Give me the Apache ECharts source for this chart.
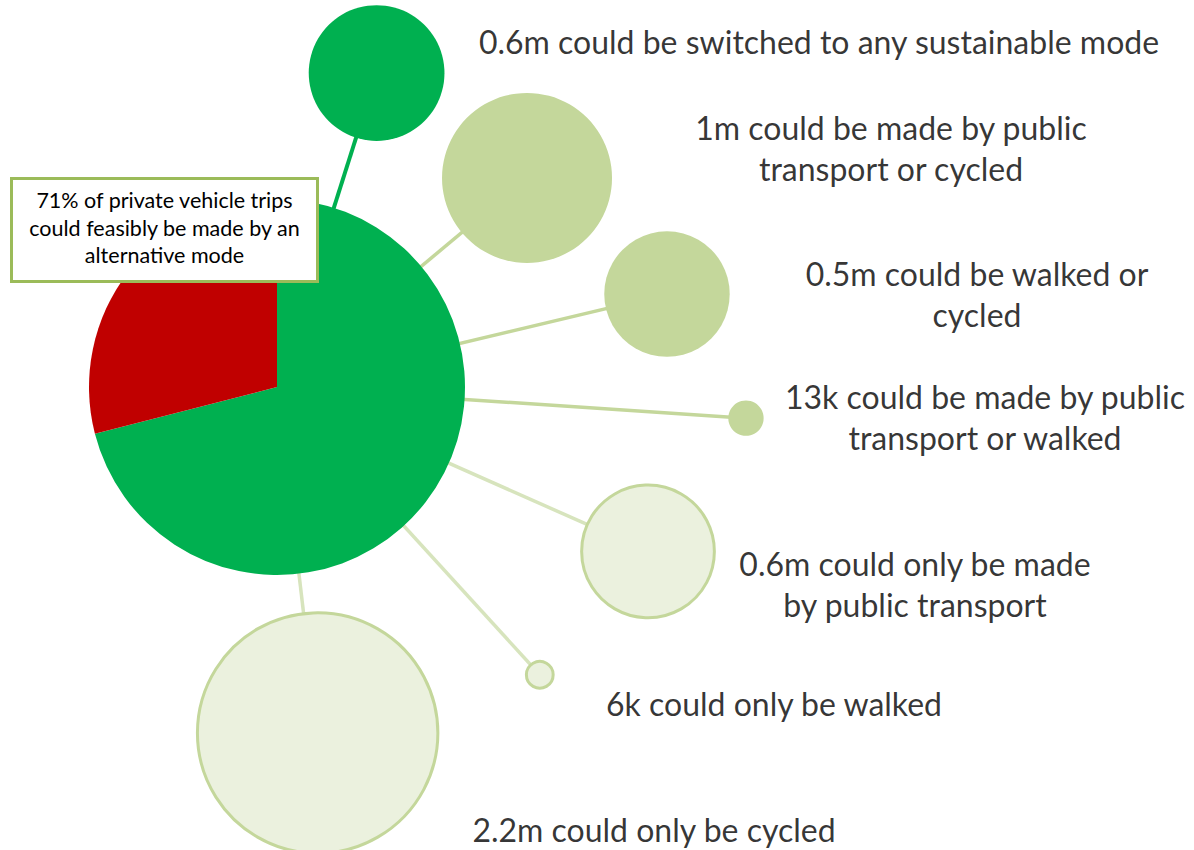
<!DOCTYPE html>
<html>
<head>
<meta charset="utf-8">
<script src="https://cdn.jsdelivr.net/npm/echarts@6/dist/echarts.min.js"></script>
<style>
  html, body { margin: 0; padding: 0; background: #ffffff; }
  #chart { width: 1194px; height: 850px; }
</style>
</head>
<body>
<div id="chart"></div>
<script>
// ---------- data ----------
const categories = [
  '0.6m could be switched to any sustainable mode',
  '1m could be made by public\ntransport or cycled',
  '0.5m could be walked or\ncycled',
  '13k could be made by public\ntransport or walked',
  '0.6m could only be made\nby public transport',
  '6k could only be walked',
  '2.2m could only be cycled'
];
const trips = [600000, 1000000, 500000, 13000, 600000, 6000, 2200000];
const pieNames = ['Could feasibly use an alternative mode', 'No feasible alternative'];
const pieShares = [71, 29];
const annotation = '71% of private vehicle trips\ncould feasibly be made by an\nalternative mode';

// ---------- layout (angle in degrees, distance in px from pie centre) ----------
const bubbleAngle = [72.4, 39.9, 13.4, -3.8, -23.9, -47.6, -83.3];
const bubbleDistance = [329.4, 325.9, 400.9, 470.0, 405.8, 389.7, 348.4];
const labelX = [819, 891, 977, 985, 915, 774, 654];
const labelY = [41, 148, 294, 417, 584, 703, 829];

// ---------- styles ----------
const DARK = '#00b050', MID = '#c4d79b', LIGHT = '#ebf1de', LINE_LIGHT = '#d7e4bd';
const bubbleFill = [DARK, MID, MID, MID, LIGHT, LIGHT, LIGHT];
const bubbleBorder = [null, null, null, null, MID, MID, MID];
const connectorColor = [DARK, MID, MID, MID, LINE_LIGHT, LINE_LIGHT, LINE_LIGHT];
const FONT = 'Lato, "Noto Sans", sans-serif';

function radiusFor(v) { return 9 + 76 * Math.sqrt(v / 1e6); }

const chart = echarts.init(document.getElementById('chart'), null, { renderer: 'svg' });

const connectorSeries = trips.map((v, i) => {
  const a = (bubbleAngle[i] + 360) % 360;
  return {
    type: 'line',
    coordinateSystem: 'polar',
    polarIndex: 0,
    z: 1,
    silent: true,
    symbol: 'none',
    animation: false,
    lineStyle: { color: connectorColor[i], width: i === 0 ? 4 : 3.5 },
    data: [[0, a], [bubbleDistance[i], a]]
  };
});

const option = {
  animation: false,
  backgroundColor: '#ffffff',
  grid: { left: 0, right: 0, top: 0, bottom: 0 },
  xAxis: { type: 'value', min: 0, max: 1194, show: false },
  yAxis: { type: 'value', min: 0, max: 850, inverse: true, show: false },
  polar: { center: [277, 387], radius: 500 },
  radiusAxis: { type: 'value', min: 0, max: 500, show: false },
  angleAxis: { type: 'value', min: 0, max: 360, startAngle: 0, clockwise: false, show: false },
  series: [
    ...connectorSeries,
    {
      type: 'pie',
      z: 2,
      center: [277, 387],
      radius: 188,
      startAngle: 90,
      clockwise: true,
      silent: true,
      label: { show: false },
      labelLine: { show: false },
      itemStyle: { borderWidth: 0 },
      data: pieShares.map((v, i) => ({
        name: pieNames[i], value: v,
        itemStyle: { color: i === 0 ? DARK : '#c00000' }
      }))
    },
    {
      type: 'scatter',
      coordinateSystem: 'polar',
      z: 3,
      silent: true,
      symbol: 'circle',
      data: trips.map((v, i) => ({
        name: categories[i],
        value: [bubbleDistance[i], (bubbleAngle[i] + 360) % 360, v],
        symbolSize: 2 * radiusFor(v) - (bubbleBorder[i] ? 3 : 0),
        itemStyle: {
          color: bubbleFill[i],
          opacity: 1,
          borderColor: bubbleBorder[i] || bubbleFill[i],
          borderWidth: bubbleBorder[i] ? 3 : 0
        }
      }))
    },
    {
      type: 'scatter',
      coordinateSystem: 'cartesian2d',
      z: 4,
      silent: true,
      symbolSize: 1,
      itemStyle: { color: 'rgba(0,0,0,0)' },
      label: {
        show: true,
        position: 'inside',
        formatter: p => p.name,
        color: '#000000',
        fontFamily: FONT,
        fontSize: 32,
        lineHeight: 40.5,
        align: 'center',
        verticalAlign: 'middle'
      },
      data: categories.map((c, i) => ({ name: c, value: [labelX[i], labelY[i]] }))
    }
  ],
  graphic: {
    elements: [
      {
        type: 'rect',
        z: 100,
        zlevel: 1,
        shape: { x: 11.5, y: 178.5, width: 306, height: 103 },
        style: { fill: '#ffffff', stroke: '#9bbb59', lineWidth: 3 }
      },
      {
        type: 'text',
        z: 101,
        zlevel: 1,
        x: 164.5,
        y: 227.5,
        style: {
          text: annotation,
          fill: '#000000',
          font: '21.5px ' + FONT,
          lineHeight: 27.5,
          align: 'center',
          verticalAlign: 'middle'
        }
      }
    ]
  }
};

chart.setOption(option);
</script>
</body>
</html>
